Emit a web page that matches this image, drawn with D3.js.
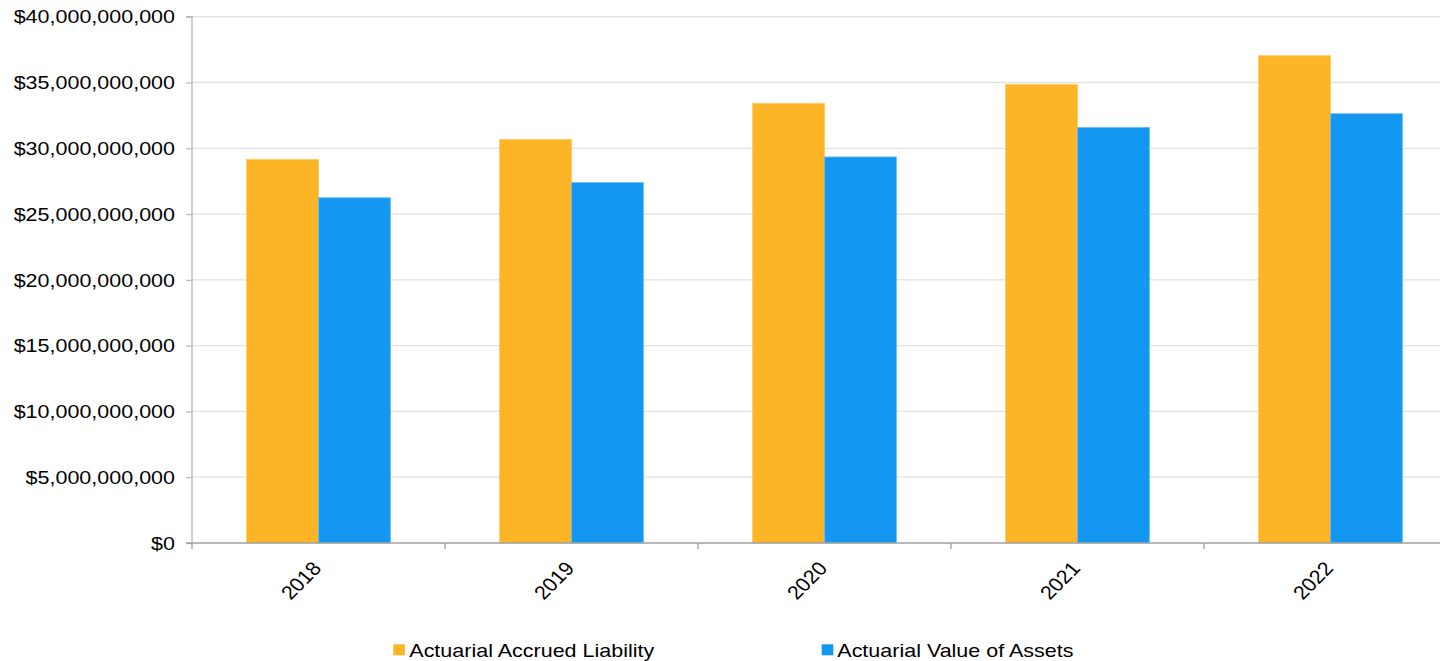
<!DOCTYPE html>
<html>
<head>
<meta charset="utf-8">
<script src="https://cdn.jsdelivr.net/npm/d3@7"></script>
<style>
  html, body { margin: 0; padding: 0; background: #ffffff; }
  svg { display: block; }
  text { font-family: "Liberation Sans", Arial, Helvetica, sans-serif; fill: #000; }
</style>
</head>
<body>
<div id="chart"></div>
<script>
// Plan funding status by valuation year
const years = ["2018", "2019", "2020", "2021", "2022"];
const seriesNames = ["Actuarial Accrued Liability", "Actuarial Value of Assets"];
const accruedLiability = [29.16e9, 30.67e9, 33.42e9, 34.86e9, 37.04e9];
const valueOfAssets = [26.24e9, 27.40e9, 29.34e9, 31.59e9, 32.63e9];
const yTickValues = [0, 5e9, 10e9, 15e9, 20e9, 25e9, 30e9, 35e9, 40e9];
const seriesColors = ["#FDB525", "#1497F1"];
const seriesStrokes = ["#FDCB66", "#6DBDF5"];

const W = 1440, H = 661;
const sx = 1.12;              // horizontal stretch of the drawing
const VW = W / sx;            // drawing width in user units
const fontSize = 19.2;

const svg = d3.select("#chart").append("svg")
  .attr("width", W).attr("height", H)
  .attr("viewBox", `0 0 ${VW} ${H}`)
  .attr("preserveAspectRatio", "none");

const plotLeft = 192 / sx;
const plotRight = 1457 / sx;
const plotTop = 16.7, plotBottom = 543;

const x0 = d3.scaleBand().domain(years).range([plotLeft, plotRight]).paddingInner(0).paddingOuter(0);
const bw = x0.bandwidth();
const x1 = d3.scaleBand().domain(seriesNames).range([bw * 0.2157, bw * 0.7843]).padding(0);
const y = d3.scaleLinear().domain([0, 40e9]).range([plotBottom, plotTop]);

// Horizontal gridlines
svg.append("g")
  .selectAll("line")
  .data(yTickValues.filter(v => v > 0))
  .join("line")
  .attr("x1", plotLeft).attr("x2", VW)
  .attr("y1", d => y(d)).attr("y2", d => y(d))
  .attr("stroke", "#e2e2e2").attr("stroke-width", 1.3);

// Bars
const rows = years.map((yr, i) => ({ year: yr, values: [accruedLiability[i], valueOfAssets[i]] }));
const groups = svg.append("g").selectAll("g")
  .data(rows).join("g")
  .attr("transform", d => `translate(${x0(d.year)},0)`);
groups.selectAll("rect")
  .data(d => d.values.map((v, k) => ({ key: seriesNames[k], value: v, k })))
  .join("rect")
  .attr("x", d => x1(d.key))
  .attr("width", x1.bandwidth())
  .attr("y", d => y(d.value))
  .attr("height", d => y(0) - y(d.value))
  .attr("fill", d => seriesColors[d.k])
  .attr("stroke", d => seriesStrokes[d.k])
  .attr("stroke-width", 0.8);

// Y axis
const fmt = v => "$" + d3.format(",")(v);
const yAxis = d3.axisLeft(y).tickValues(yTickValues).tickFormat(fmt).tickSize(6 / sx).tickPadding(11 / sx);
const gy = svg.append("g").attr("transform", `translate(${plotLeft},0)`).call(yAxis);
gy.select(".domain").attr("stroke", "#b8b8b8").attr("stroke-width", 1.2).attr("d", `M-${6 / sx},${plotTop}H0V${plotBottom}`);
gy.selectAll(".tick line").attr("stroke", "#b8b8b8").attr("stroke-width", 1.2);
gy.selectAll(".tick text").attr("font-size", fontSize).attr("fill", "#000")
  .attr("font-family", "'Liberation Sans', Arial, sans-serif");

// X axis with ticks on category boundaries
const gx = svg.append("g").attr("transform", `translate(0,${plotBottom})`);
gx.append("line").attr("x1", plotLeft - 6 / sx).attr("x2", VW)
  .attr("y1", 0).attr("y2", 0).attr("stroke", "#a0a0a0").attr("stroke-width", 1.4);
gx.selectAll("line.tk")
  .data(years)
  .join("line").attr("class", "tk")
  .attr("x1", (d, i) => plotLeft + bw * (i + 1)).attr("x2", (d, i) => plotLeft + bw * (i + 1))
  .attr("y1", 0).attr("y2", 6).attr("stroke", "#a0a0a0").attr("stroke-width", 1.2);
gx.append("line").attr("x1", plotLeft).attr("x2", plotLeft).attr("y1", 0).attr("y2", 6)
  .attr("stroke", "#a0a0a0").attr("stroke-width", 1.2);

const angle = -Math.atan(sx) * 180 / Math.PI;
gx.selectAll("text.xl")
  .data(years).join("text").attr("class", "xl")
  .attr("transform", d => `translate(${x0(d) + bw / 2 + 4 / sx},26) rotate(${angle})`)
  .attr("text-anchor", "end")
  .attr("font-size", fontSize)
  .text(d => d);

// Legend
const legendItems = [
  { name: seriesNames[0], color: seriesColors[0], sq: 393.3, tx: 409.3 },
  { name: seriesNames[1], color: seriesColors[1], sq: 821.7, tx: 837.3 }
];
const lg = svg.append("g");
lg.selectAll("rect").data(legendItems).join("rect")
  .attr("x", d => d.sq / sx).attr("y", 644.3)
  .attr("width", 11.6 / sx).attr("height", 11)
  .attr("fill", d => d.color);
lg.selectAll("text").data(legendItems).join("text")
  .attr("x", d => d.tx / sx).attr("y", 656.8)
  .attr("font-size", fontSize)
  .text(d => d.name);
</script>
</body>
</html>
